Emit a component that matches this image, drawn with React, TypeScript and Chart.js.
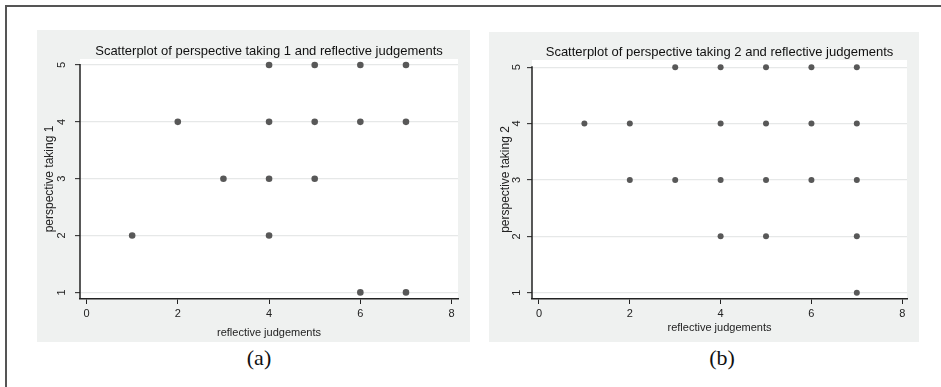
import React, { useEffect, useRef } from "react";
import { Chart, registerables } from "chart.js";

Chart.register(...registerables);

// ---- data ----
const xTickValues = [0, 2, 4, 6, 8];
const yTickValues = [1, 2, 3, 4, 5];

const titleA = "Scatterplot of perspective taking 1 and reflective judgements";
const titleB = "Scatterplot of perspective taking 2 and reflective judgements";
const xAxisTitle = "reflective judgements";
const yAxisTitleA = "perspective taking 1";
const yAxisTitleB = "perspective taking 2";
const captionA = "(a)";
const captionB = "(b)";

const reflectiveA = [4, 5, 6, 7, 2, 4, 5, 6, 7, 3, 4, 5, 1, 4, 6, 7];
const perspectiveA = [5, 5, 5, 5, 4, 4, 4, 4, 4, 3, 3, 3, 2, 2, 1, 1];

const reflectiveB = [3, 4, 5, 6, 7, 1, 2, 4, 5, 6, 7, 2, 3, 4, 5, 6, 7, 4, 5, 7, 7];
const perspectiveB = [5, 5, 5, 5, 5, 4, 4, 4, 4, 4, 4, 3, 3, 3, 3, 3, 3, 2, 2, 2, 1];

const SANS = '"Liberation Sans", Arial, Helvetica, sans-serif';

type PanelProps = {
  left: number;
  top: number;
  width: number;
  height: number;
  xs: number[];
  ys: number[];
  title: string;
  yTitle: string;
  xMin: number;
  xMax: number;
  yMin: number;
  yMax: number;
  padTop: number;
  padRight: number;
  yScaleWidth: number;
  xScaleHeight: number;
  titleY: number;
  xTitleY: number;
  yTitleX: number;
  yTickLabelOffset: number;
  pointRadius: number;
};

function Panel(p: PanelProps) {
  const ref = useRef<HTMLCanvasElement | null>(null);
  useEffect(() => {
    const canvas = ref.current;
    if (!canvas) return;
    const panelPlugin = {
      id: "panelDecor",
      beforeDraw(chart: any) {
        const { ctx, chartArea } = chart;
        ctx.save();
        ctx.fillStyle = "#eff1f0";
        ctx.fillRect(0, 0, chart.width, chart.height);
        ctx.fillStyle = "#ffffff";
        ctx.fillRect(
          chartArea.left,
          chartArea.top,
          chartArea.right - chartArea.left,
          chartArea.bottom - chartArea.top
        );
        ctx.restore();
      },
      afterDraw(chart: any) {
        const { ctx, chartArea } = chart;
        const ys = chart.scales.y;
        const cx = (chartArea.left + chartArea.right) / 2;
        const cy = (chartArea.top + chartArea.bottom) / 2;
        ctx.save();
        // y axis line
        ctx.strokeStyle = "#222";
        ctx.lineWidth = 1.5;
        ctx.beginPath();
        const yTop = ys.getPixelForValue(yTickValues[yTickValues.length - 1]);
        ctx.moveTo(chartArea.left, yTop - 1);
        ctx.lineTo(chartArea.left, chartArea.bottom);
        ctx.stroke();
        // title
        ctx.fillStyle = "#111";
        ctx.textAlign = "center";
        ctx.textBaseline = "middle";
        ctx.font = `13px ${SANS}`;
        ctx.fillText(p.title, cx, p.titleY);
        // x title
        ctx.font = `11px ${SANS}`;
        ctx.fillStyle = "#222";
        ctx.fillText(xAxisTitle, cx, p.xTitleY);
        // y tick labels (rotated)
        ctx.font = `11px ${SANS}`;
        for (const v of yTickValues) {
          const py = ys.getPixelForValue(v);
          ctx.save();
          ctx.translate(chartArea.left - p.yTickLabelOffset, py);
          ctx.rotate(-Math.PI / 2);
          ctx.fillText(String(v), 0, 0);
          ctx.restore();
        }
        // y title
        ctx.font = `12px ${SANS}`;
        ctx.save();
        ctx.translate(p.yTitleX, cy);
        ctx.rotate(-Math.PI / 2);
        ctx.fillText(p.yTitle, 0, 0);
        ctx.restore();
        ctx.restore();
      },
    };

    const chart = new Chart(canvas, {
      type: "scatter",
      data: {
        datasets: [
          {
            data: p.xs.map((x, i) => ({ x, y: p.ys[i] })),
            backgroundColor: "#585858",
            borderColor: "#585858",
            borderWidth: 0,
            pointRadius: p.pointRadius,
            pointHoverRadius: p.pointRadius,
          },
        ],
      },
      options: {
        responsive: false,
        animation: false,
        events: [],
        layout: {
          padding: { top: p.padTop, right: p.padRight, bottom: 0, left: 0 },
        },
        plugins: {
          legend: { display: false },
          tooltip: { enabled: false },
          title: { display: false },
        },
        scales: {
          x: {
            type: "linear",
            min: p.xMin,
            max: p.xMax,
            afterBuildTicks: (s: any) => {
              s.ticks = xTickValues.map((v) => ({ value: v }));
            },
            afterFit: (s: any) => {
              s.height = p.xScaleHeight;
            },
            ticks: {
              font: { family: SANS, size: 11 },
              color: "#222",
              padding: 3,
              maxRotation: 0,
              minRotation: 0,
            },
            grid: {
              display: true,
              drawOnChartArea: false,
              drawTicks: true,
              tickLength: 5,
              tickColor: "#222",
              tickWidth: 1,
            },
            border: { display: true, color: "#222", width: 1.5 },
          },
          y: {
            type: "linear",
            min: p.yMin,
            max: p.yMax,
            afterBuildTicks: (s: any) => {
              s.ticks = yTickValues.map((v) => ({ value: v }));
            },
            afterFit: (s: any) => {
              s.width = p.yScaleWidth;
            },
            ticks: { display: false },
            grid: {
              display: true,
              drawOnChartArea: true,
              color: "#e6e8e8",
              lineWidth: 1.3,
              drawTicks: true,
              tickLength: 5,
              tickColor: "#222",
              tickWidth: 1,
            },
            border: { display: false },
          },
        },
      },
      plugins: [panelPlugin],
    } as any);
    return () => chart.destroy();
  }, []);
  return (
    <canvas
      ref={ref}
      width={p.width}
      height={p.height}
      style={{
        position: "absolute",
        left: p.left,
        top: p.top,
        width: p.width,
        height: p.height,
      }}
    />
  );
}

export default function App() {
  const caption: React.CSSProperties = {
    position: "absolute",
    top: 358,
    transform: "translate(-50%, -50%)",
    fontFamily: '"Liberation Serif", "Times New Roman", serif',
    fontSize: 22,
    color: "#111",
    lineHeight: 1,
    whiteSpace: "nowrap",
  };
  return (
    <div
      style={{
        position: "absolute",
        left: 0,
        top: 0,
        width: 941,
        height: 387,
        background: "#ffffff",
        overflow: "hidden",
      }}
    >
      <div style={{ position: "absolute", left: 5, top: 5, width: 2, height: 382, background: "#555" }} />
      <div style={{ position: "absolute", left: 5, top: 5, width: 936, height: 2, background: "#555" }} />
      <Panel
        left={37}
        top={30}
        width={433}
        height={312}
        xs={reflectiveA}
        ys={perspectiveA}
        title={titleA}
        yTitle={yAxisTitleA}
        xMin={-0.143}
        xMax={8.14}
        yMin={0.884}
        yMax={5.105}
        padTop={29}
        padRight={12}
        yScaleWidth={43}
        xScaleHeight={43}
        titleY={21}
        xTitleY={303}
        yTitleX={13}
        yTickLabelOffset={18}
        pointRadius={3.3}
      />
      <Panel
        left={489}
        top={32}
        width={430}
        height={310}
        xs={reflectiveB}
        ys={perspectiveB}
        title={titleB}
        yTitle={yAxisTitleB}
        xMin={-0.154}
        xMax={8.105}
        yMin={0.889}
        yMax={5.127}
        padTop={28}
        padRight={12}
        yScaleWidth={43}
        xScaleHeight={43}
        titleY={20}
        xTitleY={296}
        yTitleX={17}
        yTickLabelOffset={15}
        pointRadius={3}
      />
      <div style={{ ...caption, left: 259 }}>{captionA}</div>
      <div style={{ ...caption, left: 722 }}>{captionB}</div>
    </div>
  );
}
